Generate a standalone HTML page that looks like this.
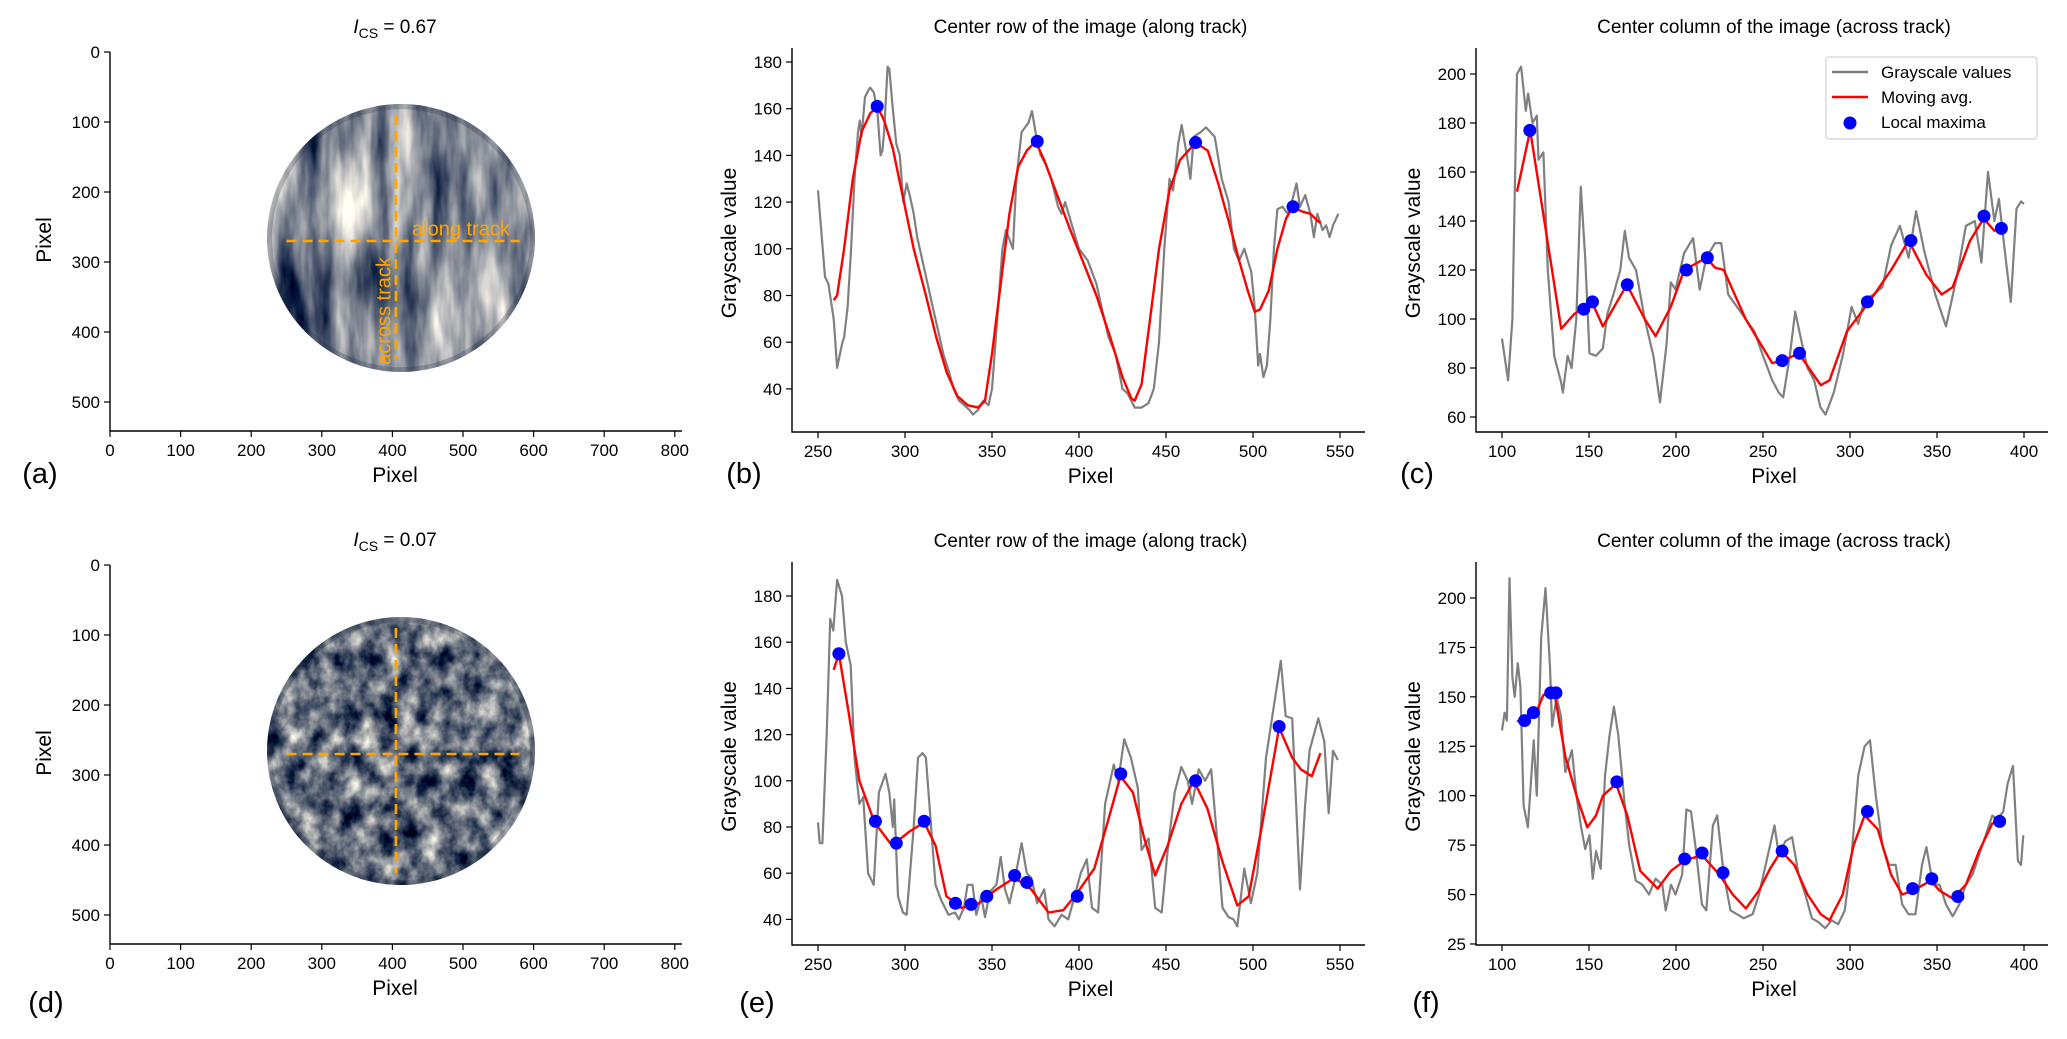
<!DOCTYPE html>
<html><head><meta charset="utf-8">
<style>
html,body{margin:0;padding:0;background:#fff;}
svg{display:block;font-family:"Liberation Sans","DejaVu Sans",sans-serif;}
</style></head>
<body>
<svg id="fig" width="2067" height="1039" viewBox="0 0 2067 1039" xmlns="http://www.w3.org/2000/svg">
<defs>
<filter id="cloudA" x="0" y="0" width="100%" height="100%" color-interpolation-filters="sRGB">
<feTurbulence type="fractalNoise" baseFrequency="0.036 0.008" numOctaves="4" seed="3"/>
<feColorMatrix type="matrix" values="1.6 0 0 0 -0.30  1.45 0 0 0 -0.20  1.15 0 0 0 0.0  0 0 0 0 1"/>
</filter>
<filter id="cloudD" x="0" y="0" width="100%" height="100%" color-interpolation-filters="sRGB">
<feTurbulence type="fractalNoise" baseFrequency="0.05 0.04" numOctaves="4" seed="8"/>
<feColorMatrix type="matrix" values="1.6 0 0 0 -0.42  1.45 0 0 0 -0.31  1.15 0 0 0 -0.10  0 0 0 0 1"/>
</filter>
<clipPath id="clipA"><circle cx="401" cy="238" r="134"/></clipPath>
<clipPath id="clipD"><circle cx="401" cy="751" r="134"/></clipPath>
</defs>
<g id="root"></g>
</svg>
<script>
// ---------- Data ----------
const imgTicksX=[0,100,200,300,400,500,600,700,800];
const imgTicksY=[0,100,200,300,400,500];
const rowTicksX=[250,300,350,400,450,500,550];
const colTicksX=[100,150,200,250,300,350,400];
const bTicksY=[40,60,80,100,120,140,160,180];
const cTicksY=[60,80,100,120,140,160,180,200];
const eTicksY=[40,60,80,100,120,140,160,180];
const fTicksY=[25,50,75,100,125,150,175,200];

const bGrayX=[250,254,256,259,261,264,265,267,269,271,273,274,275,277,279,280,282,284,286,287,288,290,291,293,295,297,299,301,303,305,307,310,313,316,319,322,325,328,331,334,337,339,342,345,348,350,352,354,356,358,362,364,367,369,371,373,375,378,381,384,388,390,392,396,400,405,410,413,417,421,425,428,432,436,440,443,446,449,452,454,457,459,462,464,466,470,473,478,482,486,489,492,495,499,501,503,504,506,508,510,512,514,517,520,523,525,527,530,533,535,537,540,542,544,546,549];
const bGrayY=[125,88,85,70,49,60,62,75,100,130,150,155,148,165,168,169,167,160,140,142,150,178,177,160,145,140,120,128,122,115,105,95,85,75,65,55,48,40,35,33,31,29,31,35,33,40,60,80,100,108,100,130,150,152,154,159,150,140,136,130,118,115,120,110,100,95,85,75,62,55,40,38,32,32,34,40,60,100,130,125,145,153,140,130,148,150,152,148,130,120,100,95,100,90,75,50,55,45,50,70,100,117,118,115,122,128,118,123,115,105,115,108,110,105,110,115];
const bAvgX=[259,261,265,270,275,280,284,288,293,298,305,312,318,324,330,336,342,346,350,355,360,365,370,375,380,388,395,402,410,418,425,430,432,436,440,446,452,458,464,468,474,480,486,492,497,501,504,509,514,519,523,528,533,537,539];
const bAvgY=[78,80,100,130,150,158,161,155,143,125,100,80,62,47,37,33,32,35,55,85,115,135,142,146,138,122,108,95,80,62,45,36,35,42,65,100,125,138,143,145,142,128,112,95,82,73,74,82,100,113,118,116,115,112,111];
const bMaxX=[284,376,467,523];
const bMaxY=[161,146,145.5,118];

const cGrayX=[100,103.5,106,108.6,111,113.7,115,117.5,120,121,123.8,126.3,130,134,135,137.7,140,142.7,145.3,147.8,150.3,154,158,160.5,164,168,170.6,173,177,182,187,190.8,194.6,197,199.7,204.7,209.8,213.6,217.4,222.4,226,230,235,240,245,250,255.3,259,261.6,265.4,268.5,271.8,275.6,279.4,283,286,290.7,295.8,300.9,304.7,308.4,313.5,318.6,323.6,328.7,333.7,338,342.6,349,355.2,361.6,366.6,371.7,375.5,379.3,383,385.6,389.4,392.4,395.7,398.3,400];
const cGrayY=[92,75,100,200,203,185,192,180,183,165,168,120,85,74,70,85,80,100,154,125,86,85,88,102,110,120,136,125,120,100,85,66,90,115,112,127,133,112,125,131,131,110,105,100,95,85,75,70,68,85,103,92,80,75,64,61,70,85,105,98,108,110,113,130,138,125,144,128,110,97,118,138,140,123,160,140,149,125,107,145,148,147];
const cAvgX=[108.6,116.2,134,141.5,151.6,158,171.8,182,188.3,197,204.7,217.4,222.4,227.5,240,255.3,261.6,270.5,283.2,288.2,298.3,311,323.6,333.7,343.9,352.7,359,369,376.8,383,386.9];
const cAvgY=[152,177,96,102,107,97,114,100,93,105,120,125,121,120,100,82,83,86,73,75,95,107,120,132,118,110,113,132,141,136,137];
const cMaxX=[116,147,152,172,206,218,261,271,310,335,377,387];
const cMaxY=[177,104,107,114,120,125,83,86,107,132,142,137];

const eGrayX=[250,251,252.5,255,257,258.8,261,263.8,266,268.8,271,273.8,276,278.8,282,285,288.8,291,293,293.8,296,298.8,301,305,307.5,310,312,315,317.5,321,325,328.8,331,333.8,336,338.8,341,343.8,346,348.8,352.5,355,357.5,360,362.5,367,370,372.5,376,380,382.5,386,390,393.8,397.5,401,404.5,407.5,411,415,420,422.5,426,429.8,433.8,436,440,443.8,447.5,451,455,458.8,462.5,465,468.8,472.5,476,478.8,482.5,486,488.8,491,495,498.8,502.5,507.5,512.5,516,518.8,522.5,527,530,532.5,537.5,541,543.5,546,548.8];
const eGrayY=[82,73,73,120,170,165,187,180,160,150,110,90,93,60,55,95,103,95,80,92,50,43,42,80,110,112,110,80,55,48,42,43,40,45,55,55,42,50,41,52,55,67,53,47,55,73,60,58,47,53,40,37,42,40,50,60,66,45,43,90,107,100,118,110,97,70,75,45,43,70,95,106,100,90,105,100,105,80,45,41,40,37,62,47,60,110,135,152,128,127,53,90,113,127,117,86,113,109];
const eAvgX=[259,262,267.5,273.8,282.5,292.5,302.5,311,317.5,323.8,332.5,342.5,352.5,363,372.5,382.5,391,398.5,408.8,417.5,423.8,431,437.5,443.8,451,458.8,466,473.8,482.5,491,497.5,505,515,522.5,527.5,533.8,538.8];
const eAvgY=[148,155,130,100,82,72,78,82,72,50,45,47,53,58,53,43,44,51,62,85,102,95,75,59,72,90,100,88,65,46,50,80,123,110,105,102,112];
const eMaxX=[262,283,295,311,329,338,347,363,370,399,424,467,515];
const eMaxY=[155,82.5,73,82.5,47,46.5,50,59,56,50,103,100,123.5];

const fGrayX=[100,101.5,102.8,104.3,106,107.3,109.1,110.6,112.4,114.9,118.2,120,122.5,125,127.6,128.8,131.4,133.9,136.4,140.2,142.8,145.3,147.8,150.3,152.1,154,156.7,159.2,161.7,164.3,166.8,170.6,173.1,176.9,180.7,184.5,188.3,192.1,194.1,197.1,199.7,203.5,206,208.6,211.1,214.9,217.4,221.2,223.7,227.5,231.3,235.1,238.9,244,247.7,252.8,256.6,259.1,262.9,266.7,270.5,274.3,278.1,281.9,285.7,289.5,293.2,297,300.9,304.7,308.4,311.5,314.8,318.6,322.4,326.2,330,333.7,337.6,341.4,343.9,347.7,351.5,355.2,359,362.8,366.6,370.4,374.2,378,381.8,384.3,388.1,390.6,393.7,396.5,398.3,399.6];
const fGrayY=[133,142,138,210,160,150,167,155,95,84,128,100,180,205,165,135,150,140,112,123,100,85,73,80,58,72,63,110,130,145,131,95,75,57,55,50,58,55,42,55,50,60,93,92,75,45,42,85,90,60,42,40,38,40,50,70,85,70,77,79,60,50,38,36,33,37,35,42,70,110,125,128,100,75,65,65,45,40,40,65,74,55,55,45,39,45,55,60,70,80,90,88,92,106,115,67,65,80];
const fAvgX=[108.6,111,114.9,118.7,123.8,130.1,136.4,142.8,149,154,158,165.6,172,179.4,189.5,197.1,204.7,214.9,225,232.6,240.2,247.7,254,260.4,268,275.6,283.2,288.2,295.8,302.1,308.4,316,323.6,330,336.3,346.4,351.5,359,366.6,374.2,381.8,386.9];
const fAvgY=[138,137,140,140,151,152,120,100,84,90,100,106,90,62,53,62,67,70,60,50,43,52,63,72,65,50,40,37,50,75,90,83,60,50,52,57,52,48,55,72,86,87];
const fMaxX=[113,118,128,131,166,205,215,227,261,310,336,347,362,386];
const fMaxY=[138,142,152,152,107,68,71,61,72,92,53,58,49,87];

// ---------- Drawing ----------
const NS='http://www.w3.org/2000/svg';
const root=document.getElementById('root');
function mk(tag,attrs,parent){const e=document.createElementNS(NS,tag);for(const k in attrs)e.setAttribute(k,attrs[k]);(parent||root).appendChild(e);return e;}
function txt(s,x,y,size,anchor,parent,extra){const t=mk('text',Object.assign({x:x,y:y,'font-size':size,'text-anchor':anchor||'middle',fill:'#000'},extra||{}),parent);t.textContent=s;return t;}

function axes(g,L,T,R,B,sx,sy,ticksX,ticksY){
  const sp=mk('path',{d:`M${L},${T}V${B}H${R}`,stroke:'#000','stroke-width':1.4,fill:'none'},g);
  
  
  const gx=mk('g',{},g);
  
  
  ticksX.forEach(v=>{const x=sx(v);mk('line',{x1:x,x2:x,y1:B,y2:B+6,stroke:'#000','stroke-width':1.2},gx);txt(String(v),x,B+25,17,'middle',gx);});
  const gy=mk('g',{},g);
  
  
  ticksY.forEach(v=>{const y=sy(v);mk('line',{x1:L-6,x2:L,y1:y,y2:y,stroke:'#000','stroke-width':1.2},gy);txt(String(v),L-10,y+6,17,'end',gy);});
}
function poly(g,xs,ys,sx,sy,color,w,name){
  const d=xs.map((x,i)=>(i?'L':'M')+sx(x).toFixed(1)+','+sy(ys[i]).toFixed(1)).join('');
  const p=mk('path',{d:d,stroke:color,'stroke-width':w,fill:'none','stroke-linejoin':'round'},g);
  
  
}
function dots(g,xs,ys,sx,sy,name){
  const gg=mk('g',{},g);
  
  
  xs.forEach((x,i)=>{const c=mk('circle',{cx:sx(x),cy:sy(ys[i]),r:6.5,fill:'#0000ff'},gg);
    
    });
}
function profile(opt){
  const g=mk('g',{});
  
  
  const sx=v=>opt.x0+(v-opt.v0)*opt.kx;
  const sy=v=>opt.y0+(opt.vy0-v)*opt.ky;
  axes(g,opt.L,opt.T,opt.R,opt.B,sx,sy,opt.ticksX,opt.ticksY);
  poly(g,opt.gx,opt.gy,sx,sy,'#808080',2.2,'grayscale-values-line');
  poly(g,opt.ax,opt.ay,sx,sy,'#ff0000',2.4,'moving-average-line');
  dots(g,opt.mx,opt.my,sx,sy,'local-maxima-points');
  const t=txt(opt.title,(opt.L+opt.R)/2+12,opt.T-15,19,'middle',g);
  
  
  const xl=txt('Pixel',(opt.L+opt.R)/2+12,opt.B+51,21,'middle',g);
  
  
  const yc=(opt.T+opt.B)/2+3;
  const yl=txt('Grayscale value',0,0,21,'middle',g,{transform:`translate(${opt.L-56},${yc}) rotate(-90)`});
  
  
  const pl=txt(opt.panel,opt.pX,opt.pY,29,'middle',g);
  
  
}

function imagePanel(opt){
  const g=mk('g',{});
  
  
  const sx=v=>110+v*0.706;
  const sy=v=>opt.top+v*0.70;
  const B=opt.top+379;
  const cy=sy(266);
  const cx=401;
  const img=mk('g',{'clip-path':`url(#${opt.clip})`},g);
  
  
  mk('rect',{x:cx-140,y:cy-140,width:280,height:280,fill:'#2a3857',filter:`url(#${opt.filter})`},img);
  mk('circle',{cx:cx,cy:cy,r:134,fill:'none',stroke:'#1c2640','stroke-width':10,opacity:0.25},img);
  const h=mk('line',{x1:sx(250),x2:sx(580),y1:sy(270),y2:sy(270),stroke:'#ffa500','stroke-width':2.6,'stroke-dasharray':'10,6'},g);
  
  
  const v=mk('line',{x1:sx(405),x2:sx(405),y1:sy(90),y2:sy(440),stroke:'#ffa500','stroke-width':2.6,'stroke-dasharray':'10,6'},g);
  
  
  if(opt.labels){
    const a=txt('along track',412,sy(262),20,'start',g,{fill:'#ffa500'});
    
    
    const c=txt('across track',0,0,20,'middle',g,{fill:'#ffa500',transform:`translate(${sx(397)},${sy(370)}) rotate(-90)`});
    
    
  }
  axes(g,110,opt.top,682,B,sx,sy,imgTicksX,imgTicksY);
  const t=mk('text',{x:395,y:opt.top-19,'font-size':19,'text-anchor':'middle',fill:'#000'},g);
  
  
  t.innerHTML='<tspan font-style="italic">I</tspan><tspan font-size="14" dy="5">CS</tspan><tspan dy="-5"> =  '+opt.val+'</tspan>';
  const xl=txt('Pixel',395,B+51,21,'middle',g);
  
  
  const yl=txt('Pixel',0,0,21,'middle',g,{transform:`translate(51,${opt.top+188}) rotate(-90)`});
  
  
  const pl=txt(opt.panel,opt.pX,opt.pY,29,'middle',g);
  
  
}

imagePanel({name:'panel-a-image',top:52,clip:'clipA',filter:'cloudA',labels:true,val:'0.67',panel:'(a)',pX:40,pY:483});
imagePanel({name:'panel-d-image',top:565,clip:'clipD',filter:'cloudD',labels:false,val:'0.07',panel:'(d)',pX:46,pY:1012});

profile({name:'panel-b-chart',L:792,T:48,R:1365,B:432,x0:818,v0:250,kx:1.74,y0:62,vy0:180,ky:2.335,
  ticksX:rowTicksX,ticksY:bTicksY,gx:bGrayX,gy:bGrayY,ax:bAvgX,ay:bAvgY,mx:bMaxX,my:bMaxY,
  title:'Center row of the image (along track)',panel:'(b)',pX:744,pY:483});
profile({name:'panel-c-chart',L:1476,T:48,R:2048,B:432,x0:1502,v0:100,kx:1.74,y0:74,vy0:200,ky:2.45,
  ticksX:colTicksX,ticksY:cTicksY,gx:cGrayX,gy:cGrayY,ax:cAvgX,ay:cAvgY,mx:cMaxX,my:cMaxY,
  title:'Center column of the image (across track)',panel:'(c)',pX:1417,pY:483});
profile({name:'panel-e-chart',L:792,T:562,R:1365,B:945,x0:818,v0:250,kx:1.74,y0:596,vy0:180,ky:2.31,
  ticksX:rowTicksX,ticksY:eTicksY,gx:eGrayX,gy:eGrayY,ax:eAvgX,ay:eAvgY,mx:eMaxX,my:eMaxY,
  title:'Center row of the image (along track)',panel:'(e)',pX:757,pY:1012});
profile({name:'panel-f-chart',L:1476,T:562,R:2048,B:945,x0:1502,v0:100,kx:1.74,y0:598,vy0:200,ky:1.977,
  ticksX:colTicksX,ticksY:fTicksY,gx:fGrayX,gy:fGrayY,ax:fAvgX,ay:fAvgY,mx:fMaxX,my:fMaxY,
  title:'Center column of the image (across track)',panel:'(f)',pX:1426,pY:1012});

// legend
const lg=mk('g',{});


mk('rect',{x:1826,y:57,width:211,height:82,rx:3,fill:'#fff',stroke:'#d0d0d0','stroke-width':1.2},lg);
const le1=mk('g',{},lg);


mk('line',{x1:1832,x2:1868,y1:72,y2:72,stroke:'#808080','stroke-width':2.4},le1);
txt('Grayscale values',1881,78,17,'start',le1);
const le2=mk('g',{},lg);


mk('line',{x1:1832,x2:1868,y1:97,y2:97,stroke:'#ff0000','stroke-width':2.4},le2);
txt('Moving avg.',1881,103,17,'start',le2);
const le3=mk('g',{},lg);


mk('circle',{cx:1850,cy:123,r:6.5,fill:'#0000ff'},le3);
txt('Local maxima',1881,128,17,'start',le3);
</script>
</body></html>
